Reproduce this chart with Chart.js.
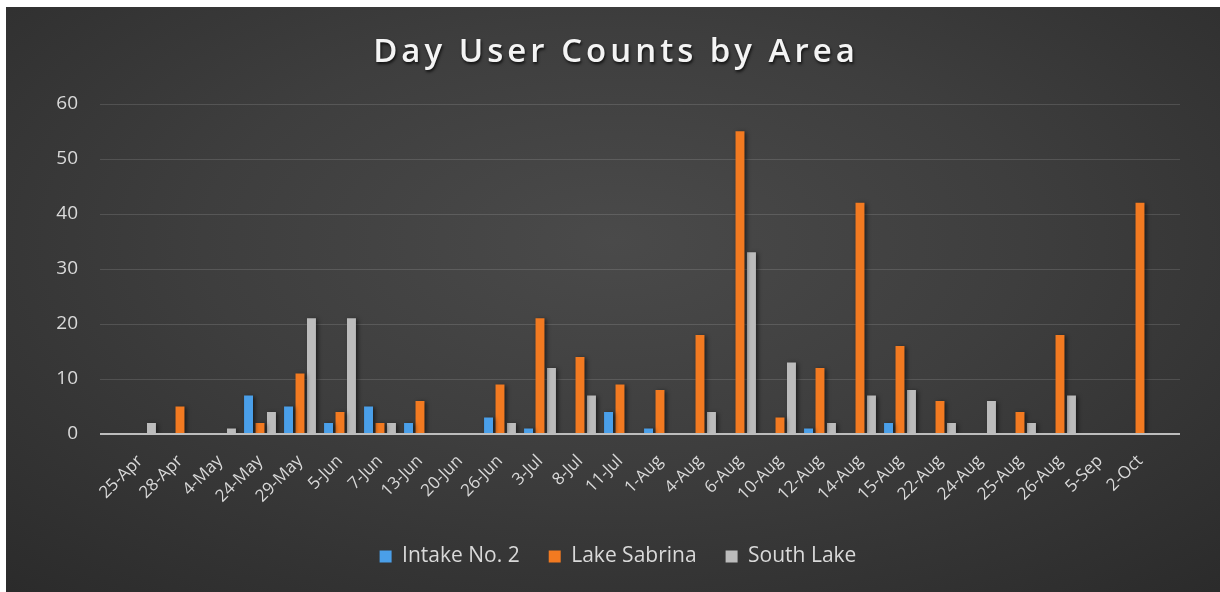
<!DOCTYPE html>
<html>
<head>
<meta charset="utf-8">
<script src="https://cdn.jsdelivr.net/npm/chart.js@4"></script>
<style>
  html, body { margin: 0; padding: 0; background: #ffffff; }
  #bg { position: absolute; left: 6px; top: 7px; width: 1214px; height: 585px;
        background: radial-gradient(ellipse 75% 80% at 50% 40%, #4a4a4a 0%, #3e3e3e 45%, #2b2b2b 100%); }
  #c { position: absolute; left: 0; top: 0; }
</style>
</head>
<body>
<div id="bg"></div>
<canvas id="c" width="1220" height="592"></canvas>
<script>
const categories = ['25-Apr','28-Apr','4-May','24-May','29-May','5-Jun','7-Jun','13-Jun','20-Jun','26-Jun','3-Jul','8-Jul','11-Jul','1-Aug','4-Aug','6-Aug','10-Aug','12-Aug','14-Aug','15-Aug','22-Aug','24-Aug','25-Aug','26-Aug','5-Sep','2-Oct'];
const intakeNo2   = [0,0,0,7,5,2,5,2,0,3,1,0,4,1,0,0,0,1,0,2,0,0,0,0,0,0];
const lakeSabrina = [0,5,0,2,11,4,2,6,0,9,21,14,9,8,18,55,3,12,42,16,6,0,4,18,0,42];
const southLake   = [2,0,1,4,21,21,2,0,0,2,12,7,0,0,4,33,13,2,7,8,2,6,2,7,0,0];
const yTicks = { min: 0, max: 60, step: 10 };

const FONT = "'Open Sans', 'Noto Sans', sans-serif";

function wrapDraw(block, fn) {
  if (!block || block._wrapped) return;
  const orig = block.draw;
  block.draw = function () {
    const ctx = this.ctx;
    ctx.save();
    fn(ctx);
    orig.apply(this, arguments);
    ctx.restore();
  };
  block._wrapped = true;
}

const gridPlugin = {
  id: 'extGrid',
  afterInit(chart) {
    wrapDraw(chart.titleBlock, (ctx) => {
      try { ctx.letterSpacing = '4px'; } catch (e) {}
      ctx.translate(6, 0);
      ctx.shadowColor = 'rgba(0,0,0,0.75)';
      ctx.shadowBlur = 3;
      ctx.shadowOffsetX = 1;
      ctx.shadowOffsetY = 2;
    });
    wrapDraw(chart.legend, (ctx) => { ctx.translate(8, 0); });
  },
  beforeDatasetsDraw(chart) {
    const { ctx, chartArea } = chart;
    const y = chart.scales.y;
    const ext = 20;
    ctx.save();
    ctx.strokeStyle = 'rgba(255,255,255,0.13)';
    ctx.lineWidth = 1;
    y.ticks.forEach((t) => {
      if (t.value === 0) return;
      const py = Math.round(y.getPixelForValue(t.value)) + 0.5;
      ctx.beginPath();
      ctx.moveTo(chartArea.left - ext, py);
      ctx.lineTo(chartArea.right + ext, py);
      ctx.stroke();
    });
    ctx.restore();
    ctx.save();
    ctx.shadowColor = 'rgba(0,0,0,0.55)';
    ctx.shadowBlur = 4;
    ctx.shadowOffsetX = 2;
    ctx.shadowOffsetY = 1;
  },
  afterDatasetsDraw(chart) {
    const { ctx, chartArea } = chart;
    ctx.restore();
    const y = chart.scales.y;
    const ext = 20;
    ctx.save();
    ctx.strokeStyle = '#bdbdbd';
    ctx.lineWidth = 2;
    const py = y.getPixelForValue(0);
    ctx.beginPath();
    ctx.moveTo(chartArea.left - ext, py);
    ctx.lineTo(chartArea.right + ext, py);
    ctx.stroke();
    ctx.restore();
  }
};

new Chart(document.getElementById('c'), {
  type: 'bar',
  data: {
    labels: categories,
    datasets: [
      { label: 'Intake No. 2', data: intakeNo2, backgroundColor: '#4a9fe9' },
      { label: 'Lake Sabrina', data: lakeSabrina, backgroundColor: '#f27a21' },
      { label: 'South Lake', data: southLake, backgroundColor: '#bcbcbc' }
    ]
  },
  options: {
    responsive: false,
    animation: false,
    devicePixelRatio: 1,
    layout: { padding: { top: 7, left: 0, right: 0, bottom: 15 } },
    datasets: { bar: { categoryPercentage: 0.86, barPercentage: 0.78 } },
    plugins: {
      title: {
        display: true,
        text: 'Day User Counts by Area',
        color: '#f4f4f4',
        font: { family: FONT, size: 33, weight: '600' },
        padding: { top: 26, bottom: 31 }
      },
      legend: {
        position: 'bottom',
        labels: {
          color: '#d9d9d9',
          font: { family: FONT, size: 21 },
          boxWidth: 12,
          boxHeight: 12,
          padding: 29
        }
      },
      tooltip: { enabled: false }
    },
    scales: {
      x: {
        grid: { display: false, drawTicks: false },
        border: { display: false },
        ticks: {
          color: '#d9d9d9',
          font: { family: FONT, size: 17 },
          maxRotation: 45,
          minRotation: 45,
          autoSkip: false,
          padding: 17
        },
        afterFit(scale) { scale.height = 83; }
      },
      y: {
        min: yTicks.min,
        max: yTicks.max,
        grid: { display: false, drawTicks: false },
        border: { display: false },
        ticks: {
          stepSize: yTicks.step,
          color: '#d9d9d9',
          font: { family: FONT, size: 19 },
          padding: 42
        },
        afterFit(scale) { scale.width = 120; }
      },
      yRight: {
        position: 'right',
        min: yTicks.min,
        max: yTicks.max,
        grid: { display: false, drawTicks: false },
        border: { display: false },
        ticks: { display: false },
        afterFit(scale) { scale.width = 60; }
      }
    }
  },
  plugins: [gridPlugin]
});
</script>
</body>
</html>
